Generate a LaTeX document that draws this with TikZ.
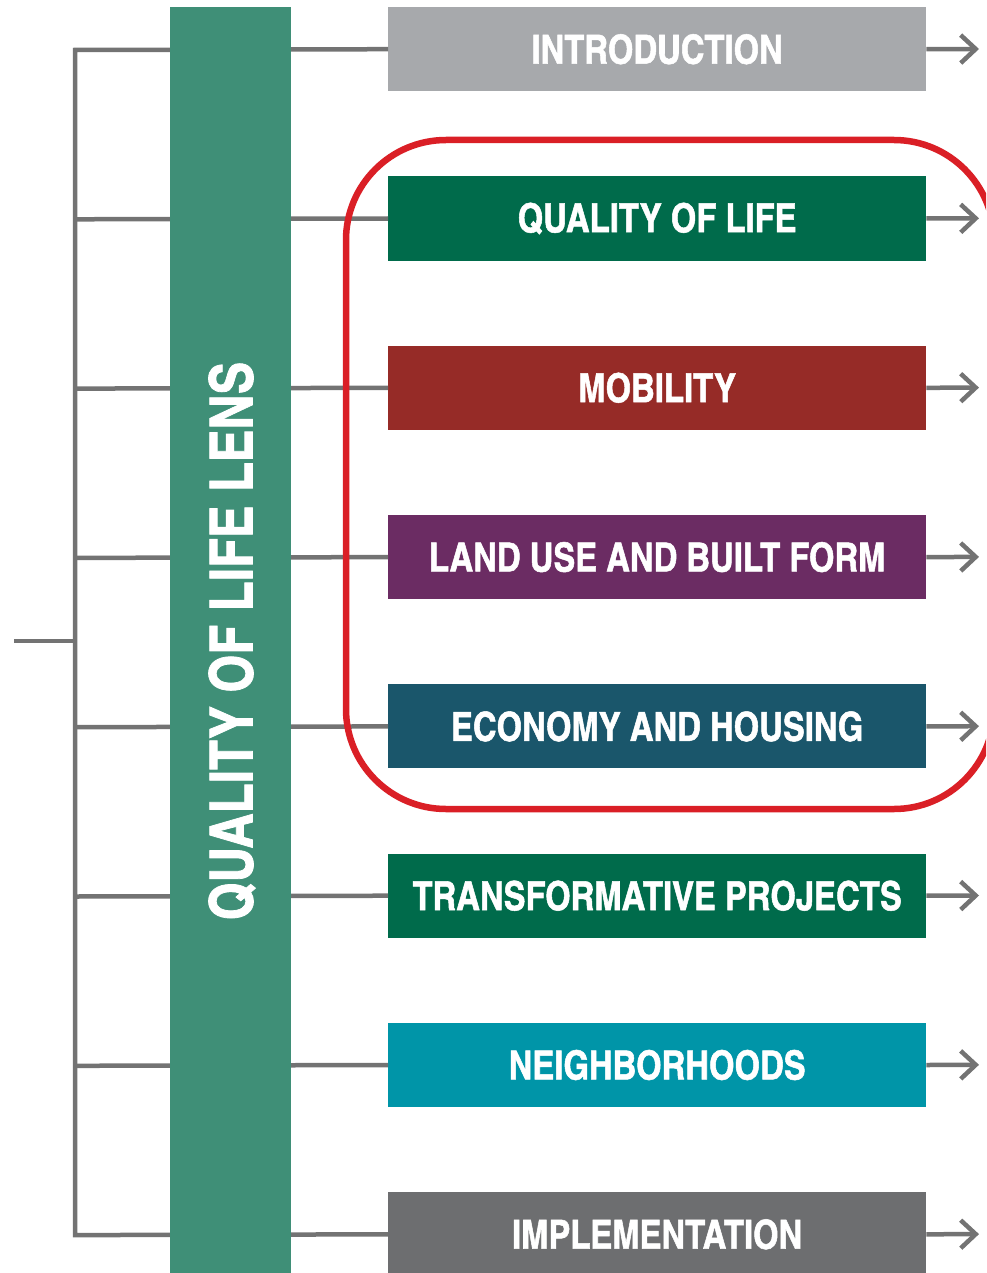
\documentclass[tikz,border=0pt]{standalone}
\usepackage{fontspec}
\usetikzlibrary{arrows.meta}
\newfontfamily\labfont{texgyreheroscn-bold}[Extension=.otf,FakeBold=1.3]
\definecolor{lensgreen}{RGB}{63,143,119}
\definecolor{cintro}{RGB}{167,169,172}
\definecolor{cqol}{RGB}{0,107,75}
\definecolor{cmob}{RGB}{150,43,39}
\definecolor{cland}{RGB}{107,44,99}
\definecolor{cecon}{RGB}{26,86,107}
\definecolor{ctrans}{RGB}{0,107,75}
\definecolor{cneigh}{RGB}{0,149,168}
\definecolor{cimpl}{RGB}{109,110,112}
\definecolor{linegray}{RGB}{115,115,115}
\definecolor{ringred}{RGB}{218,31,38}
\tikzset{
  secbox/.style={minimum width=538pt, minimum height=84pt, inner sep=0pt, anchor=north west,
    text=white, font=\labfont\fontsize{40}{40}\selectfont},
  conn/.style={draw=linegray, line width=4.5pt},
  arr/.style={conn, -{Straight Barb[length=15pt,width=28pt]}},
  ring/.style={draw=ringred, line width=6.5pt, rounded corners=100pt}
}
\begin{document}
\begin{tikzpicture}[x=1pt,y=-1pt]
\useasboundingbox (0,0) rectangle (986,1273);
\clip (0,0) rectangle (986,1273);
% spine coordinates
\foreach \i in {0,...,7}{
  \coordinate (s\i) at (75,{50+169.3*\i});
  \coordinate (a\i) at (979,{49+169.3*\i});
}
\coordinate (stub) at (14,641);
\coordinate (sm) at (75,641);
% boxes
\foreach \i/\c/\t in {0/cintro/INTRODUCTION,1/cqol/QUALITY OF LIFE,2/cmob/MOBILITY,
  3/cland/LAND USE AND BUILT FORM,4/cecon/ECONOMY AND HOUSING,
  5/ctrans/TRANSFORMATIVE PROJECTS,6/cneigh/NEIGHBORHOODS,7/cimpl/IMPLEMENTATION}{
  \node[secbox, fill=\c] (b\i) at (388,{7+169.3*\i}) {\t};
}
% connectors
\draw[conn] (b0.west) -- (s0) -- (s7) -- (b7.west);
\foreach \i in {1,...,6}{ \draw[conn] (s\i) -- (b\i.west); }
\draw[conn] (stub) -- (sm);
\foreach \i in {0,...,7}{ \draw[arr] (b\i.east) -- (a\i); }
% lens bar
\node[fill=lensgreen, minimum width=121pt, minimum height=1280pt, inner sep=0pt, anchor=north west] (bar) at (170,7) {};
\node[rotate=90, text=white, font=\labfont\fontsize{59.5}{59.5}\selectfont, inner sep=0pt] (lens) at (232,641) {QUALITY OF LIFE LENS};
% red ring
\draw[ring] (346,140) rectangle (994,809);
\end{tikzpicture}
\end{document}
